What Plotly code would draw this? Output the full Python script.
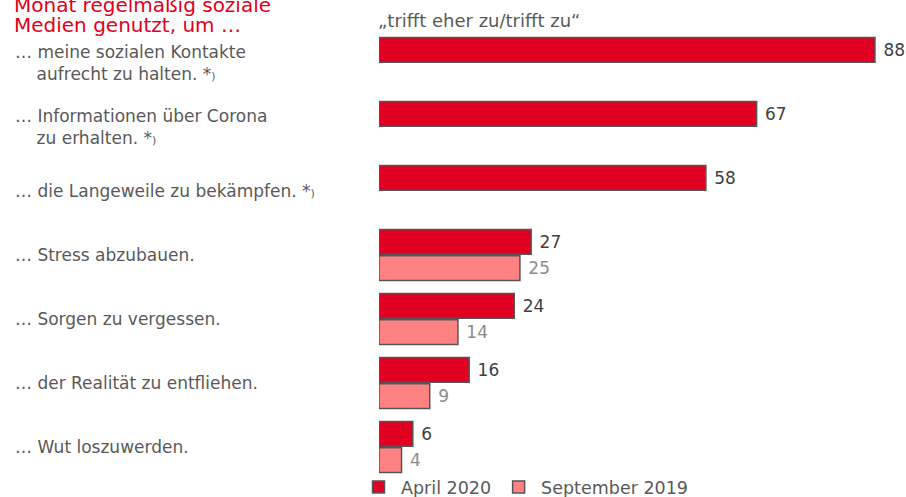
import plotly.graph_objects as go

NB = "\u00a0" * 4
STAR = "*<span style='font-size:11px'>)</span>"
categories = [
    "… meine sozialen Kontakte<br>" + NB + "aufrecht zu halten. " + STAR,
    "… Informationen über Corona<br>" + NB + "zu erhalten. " + STAR,
    "… die Langeweile zu bekämpfen. " + STAR,
    "… Stress abzubauen.",
    "… Sorgen zu vergessen.",
    "… der Realität zu entfliehen.",
    "… Wut loszuwerden.",
]
april_2020 = [88, 67, 58, 27, 24, 16, 6]
september_2019 = [None, None, None, 25, 14, 9, 4]
series_names = ["April 2020", "September 2019"]

title_lines = ["Monat regelmäßig soziale", "Medien genutzt, um …"]
subtitle_text = "„trifft eher zu/trifft zu“"

FONT = "DejaVu Sans"
W, H = 906, 497
L, R, T, B = 379, 8, 31, 0
LEGEND_TOP = 469
plot_w = W - L - R
plot_h = H - T - B
band = 64.0
y_bottom = -0.5 + plot_h / band

fig = go.Figure()
fig.add_trace(go.Bar(
    y=categories, x=april_2020, orientation="h", name=series_names[0],
    marker=dict(color="#E10022", line=dict(color="#555555", width=1.5)),
    text=april_2020, texttemplate=" %{x}", textposition="outside",
    textfont=dict(family=FONT, size=17, color="#404040"), cliponaxis=False,
))
fig.add_trace(go.Bar(
    y=categories, x=september_2019, orientation="h", name=series_names[1],
    marker=dict(color="#FF8282", line=dict(color="#555555", width=1.5)),
    text=september_2019, texttemplate=" %{x}", textposition="outside",
    textfont=dict(family=FONT, size=17, color="#8C8C8C"), cliponaxis=False,
))

def px_to_paper_y(py):
    return 1 - (py - T) / plot_h

annotations = []
for c in categories:
    annotations.append(dict(
        x=(13 - L) / plot_w, xref="paper", y=c, yref="y",
        text=c, showarrow=False, xanchor="left", yanchor="middle", align="left",
        font=dict(family=FONT, size=17, color="#595959"),
    ))
for line, py in zip(title_lines, [5, 25]):
    annotations.append(dict(
        x=(12 - L) / plot_w, xref="paper", y=px_to_paper_y(py), yref="paper",
        text=line, showarrow=False, xanchor="left", yanchor="middle", align="left",
        font=dict(family=FONT, size=20, color="#E2001A"),
    ))
annotations.append(dict(
    x=(376 - L) / plot_w, xref="paper", y=px_to_paper_y(20), yref="paper",
    text=subtitle_text, showarrow=False, xanchor="left", yanchor="middle", align="left",
    font=dict(family=FONT, size=18, color="#595959"),
))

fig.update_layout(
    width=W, height=H,
    margin=dict(l=L, r=R, t=T, b=B, pad=0, autoexpand=False),
    paper_bgcolor="white", plot_bgcolor="white",
    barmode="group", bargap=0.18, bargroupgap=0.06,
    xaxis=dict(range=[0, plot_w / 5.636], visible=False, fixedrange=True),
    yaxis=dict(range=[y_bottom, -0.5], showticklabels=False, showgrid=False,
               zeroline=False, showline=False, ticks="", fixedrange=True),
    annotations=annotations,
    showlegend=True,
    legend=dict(orientation="h", x=(356 - L) / plot_w, xanchor="left",
                yref="container", y=(H - LEGEND_TOP) / H, yanchor="top",
                font=dict(family=FONT, size=17.5, color="#595959"),
                itemwidth=35, tracegroupgap=0, bgcolor="rgba(0,0,0,0)"),
    font=dict(family=FONT),
)

fig.write_html("out.html", config={"displayModeBar": False},
               post_script="document.body.style.margin='0';")
